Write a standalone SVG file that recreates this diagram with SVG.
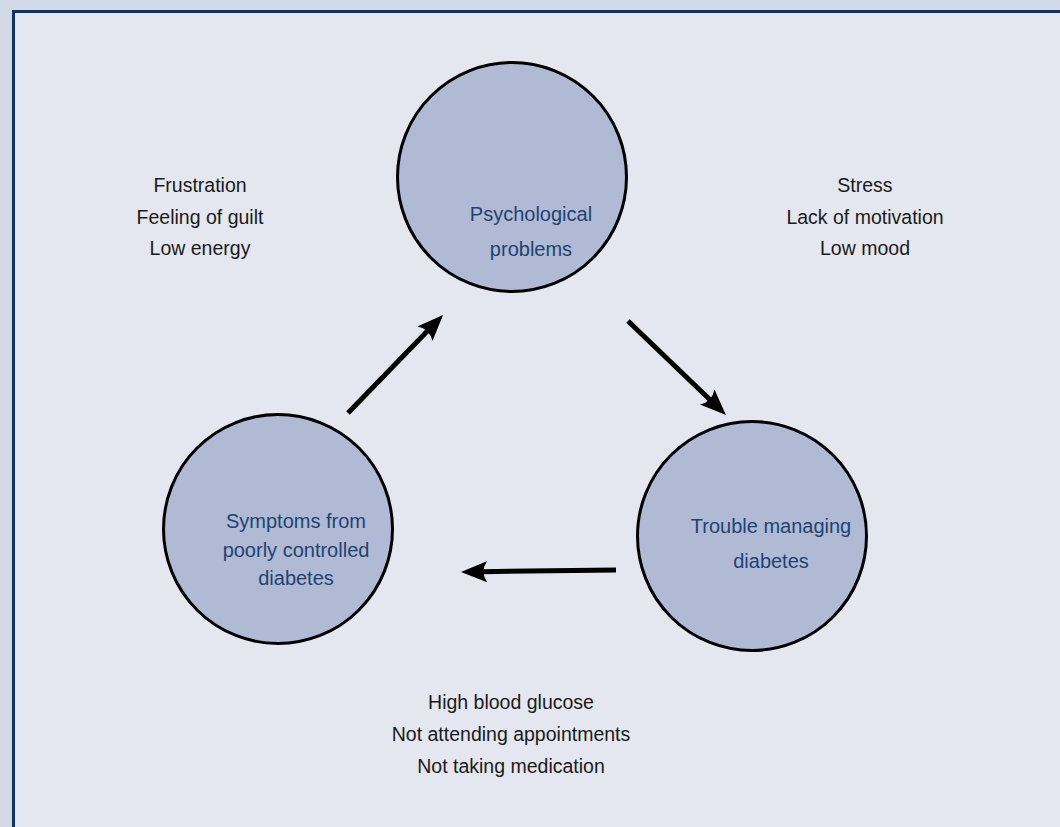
<svg xmlns="http://www.w3.org/2000/svg" width="1060" height="827" viewBox="0 0 1060 827">
<defs>
<style>
.node circle{fill:#b1bad4;stroke:#000;stroke-width:3}
.lbl{font-family:"Liberation Sans",Arial,sans-serif;font-size:20px;fill:#1e4373;text-anchor:middle}
.note{font-family:"Liberation Sans",Arial,sans-serif;font-size:19.5px;fill:#1a1a1a;text-anchor:middle}
.conn line{stroke:#000;stroke-width:5;stroke-linecap:butt}
</style>
<marker id="ah" viewBox="0 -12 28 24" refX="7" refY="0" markerWidth="28" markerHeight="24" markerUnits="userSpaceOnUse" orient="auto">
<path d="M28,0 L2,-10.5 Q9,0 2,10.5 Z" fill="#000"/>
</marker>
</defs>
<rect x="0" y="0" width="1060" height="827" fill="#d1d8e6"/>
<rect x="13.5" y="11.5" width="1100" height="900" fill="#e4e7ef" stroke="#0f3366" stroke-width="3"/>

<g id="node-psychological" class="node">
<circle cx="512" cy="177" r="114.5"/>
<text class="lbl" x="531" y="221">Psychological</text>
<text class="lbl" x="531" y="256">problems</text>
</g>

<g id="node-trouble" class="node">
<circle cx="752" cy="536" r="114.5"/>
<text class="lbl" x="771" y="533">Trouble managing</text>
<text class="lbl" x="771" y="568">diabetes</text>
</g>

<g id="node-symptoms" class="node">
<circle cx="278" cy="529" r="114.5"/>
<text class="lbl" x="296" y="528">Symptoms from</text>
<text class="lbl" x="296" y="557">poorly controlled</text>
<text class="lbl" x="296" y="585">diabetes</text>
</g>

<g id="connectors" class="conn">
<line x1="348" y1="413" x2="428.4" y2="330.1" marker-end="url(#ah)"/>
<line x1="628" y1="321" x2="710.8" y2="400.5" marker-end="url(#ah)"/>
<line x1="616" y1="570" x2="482" y2="571.7" marker-end="url(#ah)"/>
</g>

<g id="notes-left">
<text class="note" x="200" y="192">Frustration</text>
<text class="note" x="200" y="224">Feeling of guilt</text>
<text class="note" x="200" y="255">Low energy</text>
</g>
<g id="notes-right">
<text class="note" x="865" y="192">Stress</text>
<text class="note" x="865" y="224">Lack of motivation</text>
<text class="note" x="865" y="255">Low mood</text>
</g>
<g id="notes-bottom">
<text class="note" x="511" y="709">High blood glucose</text>
<text class="note" x="511" y="741">Not attending appointments</text>
<text class="note" x="511" y="773">Not taking medication</text>
</g>
</svg>
